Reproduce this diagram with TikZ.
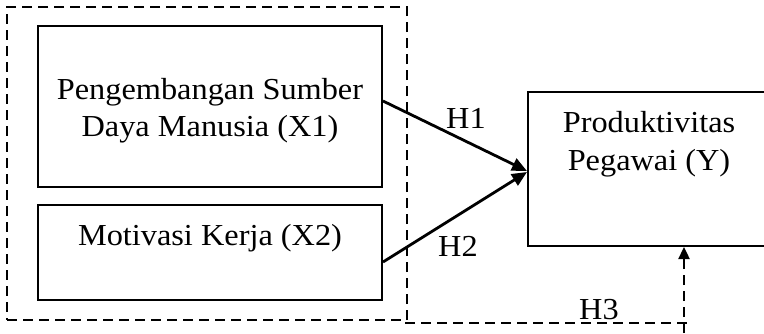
\documentclass[tikz,border=0pt]{standalone}
\usepackage{fontspec}
\setmainfont[FakeStretch=1.06]{Liberation Serif}
\usetikzlibrary{arrows.meta}
\begin{document}
\begin{tikzpicture}[x=1pt,y=-1pt,
  box/.style={draw,line width=2pt,rectangle,inner sep=0pt},
  txt/.style={anchor=base,inner sep=0pt,font=\fontsize{30.5}{38}\selectfont},
  outer/.style={draw,line width=2.4pt,dash pattern=on 10pt off 6pt,inner sep=0pt},
  link/.style={line width=2.8pt,-{Triangle[length=15pt,width=13pt]}},
  dlink/.style={line width=2.4pt,dash pattern=on 10pt off 6pt,-{Triangle[length=12pt,width=11pt]}}]
\useasboundingbox (0,0) rectangle (764,333);
\node[outer,minimum width=400pt,minimum height=313pt] (o) at (207,163.5) {};
\node[box,minimum width=344pt,minimum height=161pt] (x1) at (210,106.5) {};
\node[txt] (x1a) at (210,99) {Pengembangan Sumber};
\node[txt] (x1b) at (210,136) {Daya Manusia (X1)};
\node[box,minimum width=344pt,minimum height=95pt] (x2) at (210,252.5) {};
\node[txt] (x2a) at (210,245) {Motivasi Kerja (X2)};
\node[box,minimum width=270pt,minimum height=154pt] (y) at (663,169) {};
\node[txt] (ya) at (649,132) {Produktivitas};
\node[txt] (yb) at (649,170) {Pegawai (Y)};
\draw[link] ([yshift=5.5pt]x1.east) -- ([yshift=-2pt]y.west);
\draw[link] ([yshift=-9.5pt]x2.east) -- ([yshift=-3pt]y.west);
\node[txt] (h1) at (466,128) {H1};
\node[txt] (h2) at (458,256) {H2};
\node[txt] (h3) at (599,319) {H3};
\coordinate (c0) at (405,323);
\coordinate (c1) at (688,323);
\coordinate (c2) at (684,333);
\draw[line width=2.4pt,dash pattern=on 10pt off 6pt] (c0) -- (c1);
\draw[dlink] (c2) -- (y.south -| c2);
\end{tikzpicture}
\end{document}
